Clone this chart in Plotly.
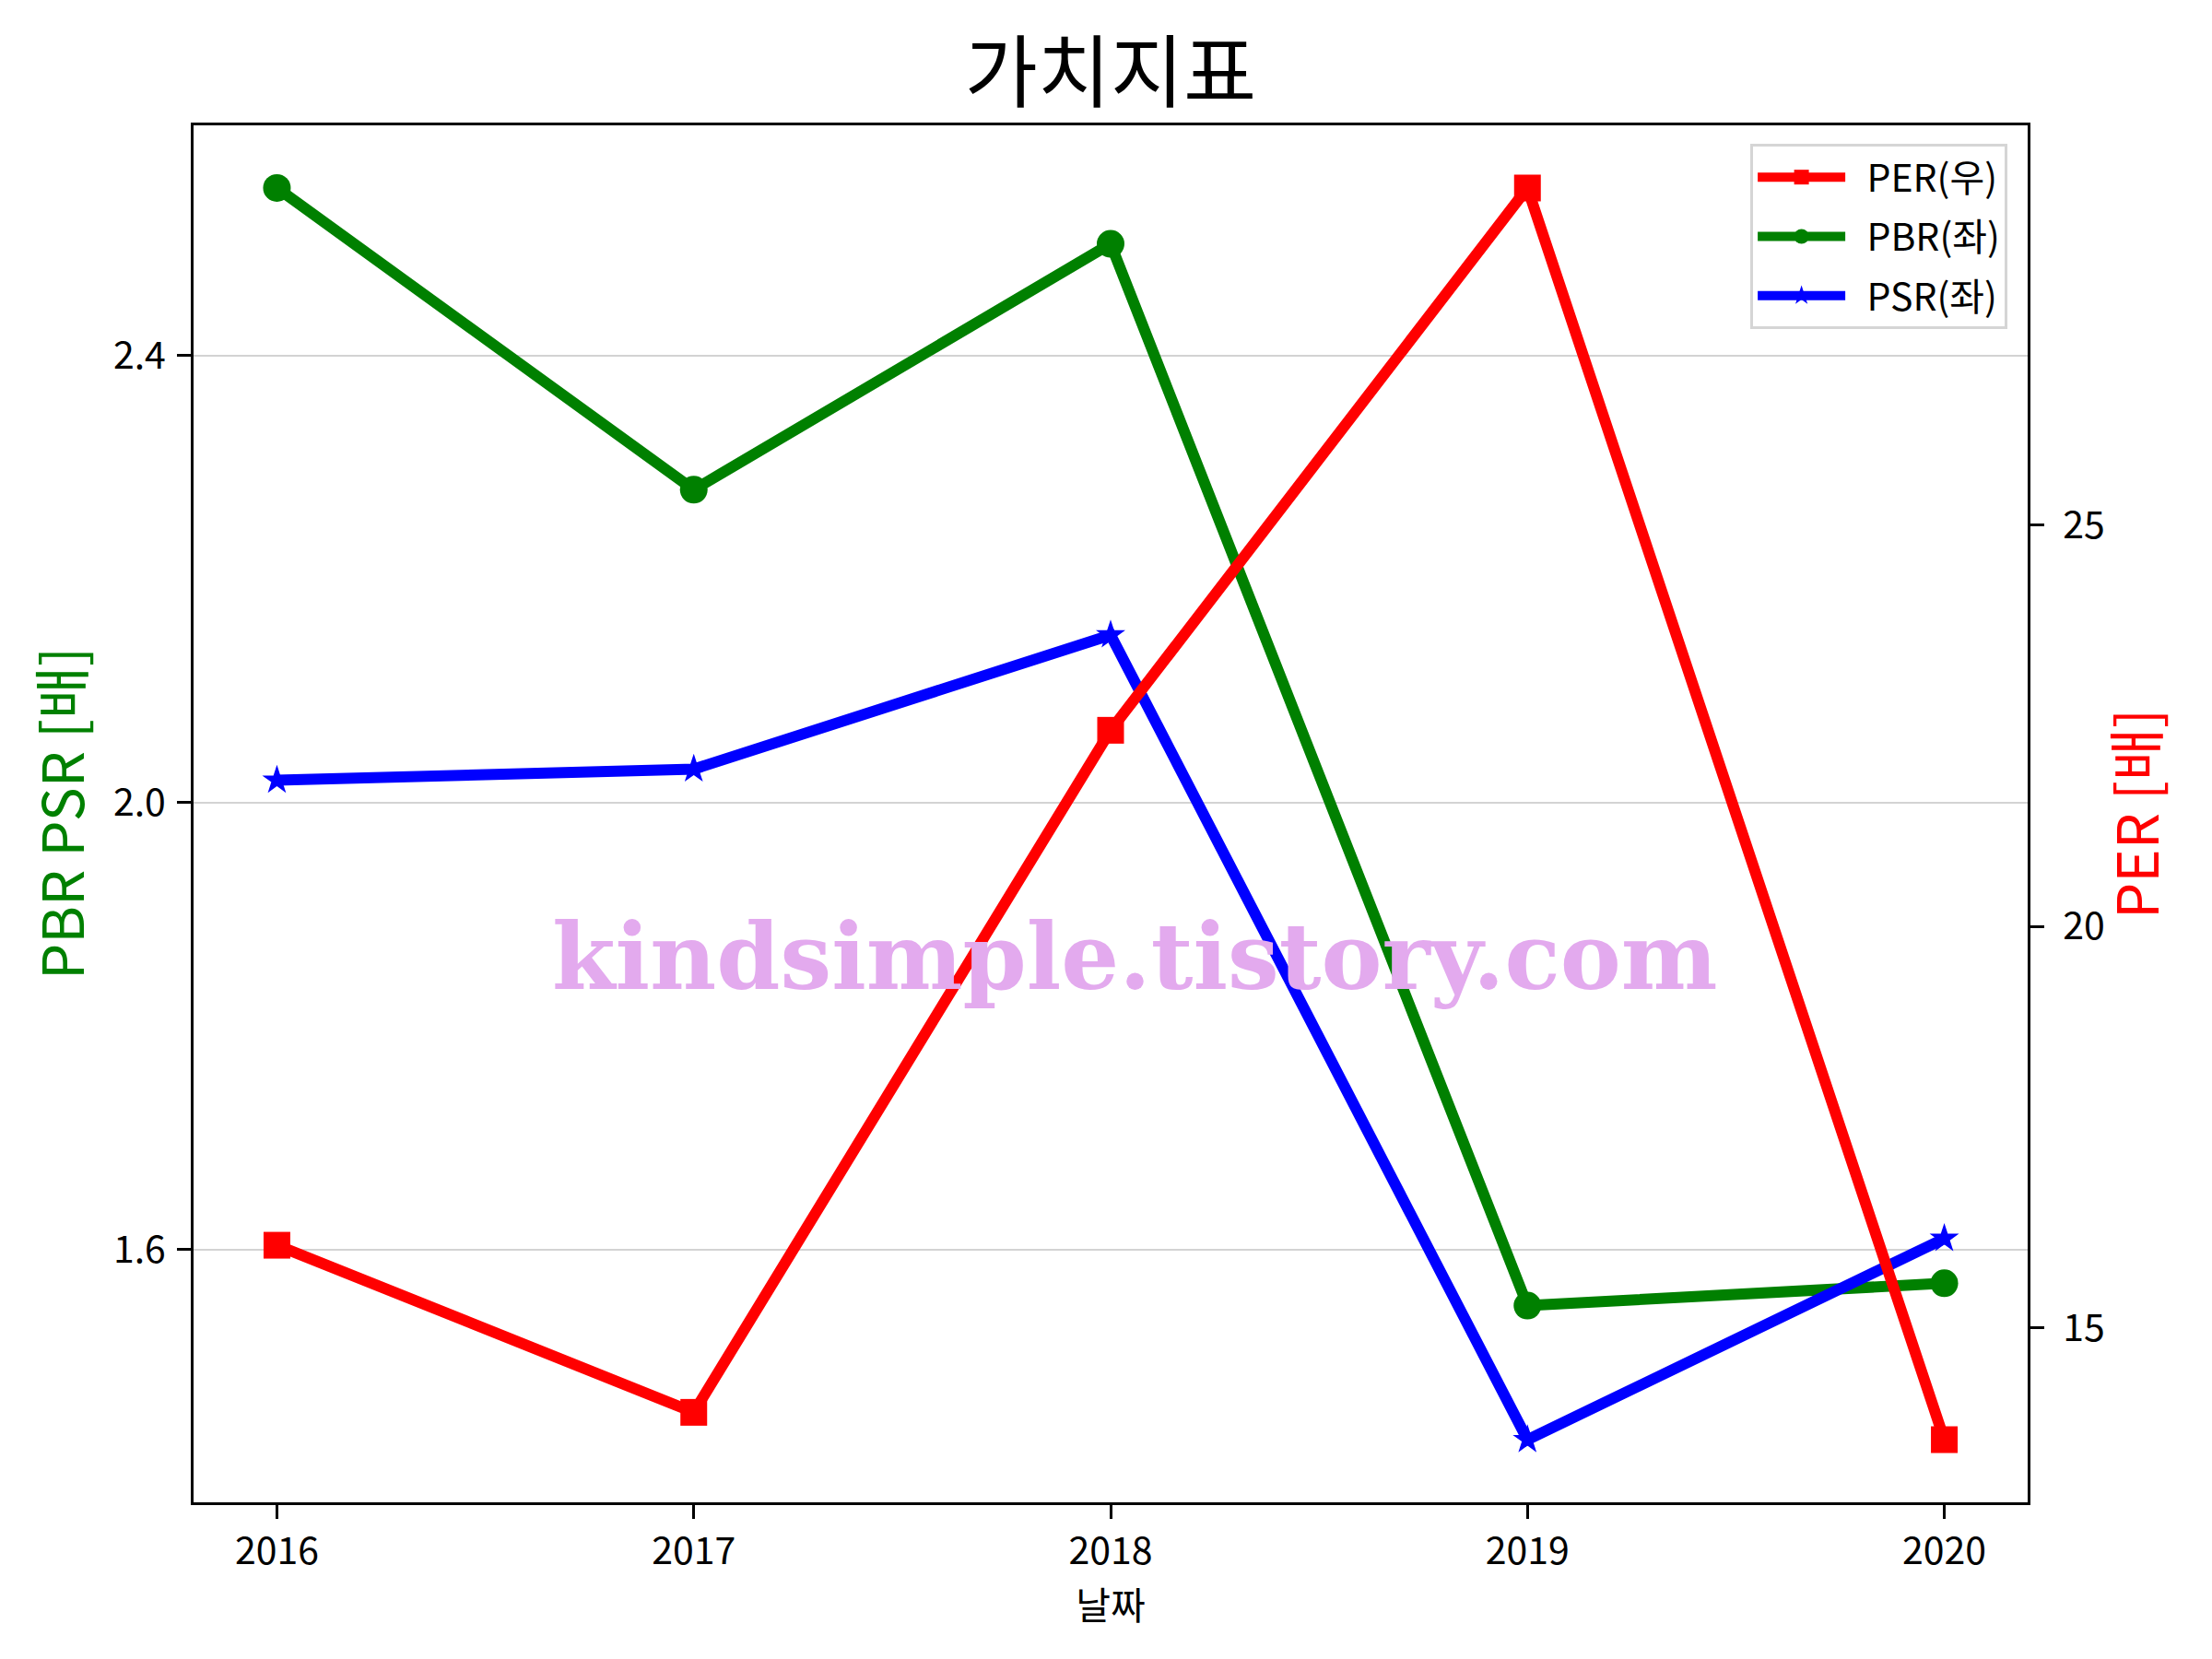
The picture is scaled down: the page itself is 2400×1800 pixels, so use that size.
import plotly.graph_objects as go

years = [2016, 2017, 2018, 2019, 2020]
per = [16.03, 13.95, 22.44, 29.19, 13.61]
pbr = [2.550, 2.280, 2.500, 1.550, 1.570]
psr = [2.020, 2.030, 2.150, 1.430, 1.610]

FONT = "Noto Sans CJK KR"
NB = "\u00a0\u00a0"

fig = go.Figure()
fig.add_trace(go.Scatter(x=years, y=per, name=NB + "PER(우)", yaxis="y2", legendgroup="a",
                         mode="lines+markers",
                         line=dict(color="#ff0000", width=12),
                         marker=dict(symbol="square", size=29, color="#ff0000")))
fig.add_trace(go.Scatter(x=years, y=pbr, name=NB + "PBR(좌)", legendgroup="b",
                         mode="lines+markers",
                         line=dict(color="#008000", width=12),
                         marker=dict(symbol="circle", size=30, color="#008000")))
fig.add_trace(go.Scatter(x=years, y=psr, name=NB + "PSR(좌)", legendgroup="c",
                         mode="lines+markers",
                         line=dict(color="#0000ff", width=12),
                         marker=dict(symbol="star", size=24, color="#0000ff")))

fig.update_layout(
    width=2400, height=1800,
    paper_bgcolor="white", plot_bgcolor="white",
    margin=dict(l=202, r=208, t=128, b=178),
    font=dict(family=FONT, size=41, color="black"),
    title=dict(text="가치지표", x=0.5, xref="paper", y=1 - 72 / 1800, yref="container",
               xanchor="center", yanchor="middle",
               font=dict(family=FONT, size=86, color="black")),
    xaxis=dict(range=[2015.8, 2020.2], tickvals=years, ticktext=[str(y) for y in years],
               showgrid=False, zeroline=False,
               showline=True, linecolor="black", linewidth=3, mirror=True,
               ticks="outside", ticklen=15, tickwidth=2.5, tickcolor="black",
               tickfont=dict(family=FONT, size=41),
               title=dict(text="날짜", font=dict(family=FONT, size=41), standoff=6)),
    yaxis=dict(range=[1.374, 2.606], tick0=0, dtick=0.4, tickformat=".1f",
               showgrid=True, gridcolor="#d3d3d3", gridwidth=1.5, zeroline=False,
               showline=True, linecolor="black", linewidth=3, mirror=True,
               ticks="outside", ticklen=15, tickwidth=2.5, tickcolor="black",
               ticklabelstandoff=4,
               tickfont=dict(family=FONT, size=41)),
    yaxis2=dict(range=[12.83, 29.97], tick0=0, dtick=5, overlaying="y", side="right",
                showgrid=False, zeroline=False,
                showline=True, linecolor="black", linewidth=3,
                ticks="outside", ticklen=15, tickwidth=2.5, tickcolor="black",
                ticklabelstandoff=12,
                tickfont=dict(family=FONT, size=41)),
    legend=dict(x=0.989, y=0.9866, xanchor="right", yanchor="top",
                bgcolor="white", bordercolor="#d5d5d5", borderwidth=3,
                font=dict(family=FONT, size=41), itemwidth=95,
                traceorder="grouped", tracegroupgap=8),
    showlegend=True,
)

# axis titles
fig.add_annotation(text="PBR PSR [배]", xref="paper", yref="paper", x=0, y=0.5,
                   xanchor="center", yanchor="middle", xshift=-146, textangle=-90,
                   showarrow=False, font=dict(family=FONT, size=62, color="#008000"))
fig.add_annotation(text="PER [배]", xref="paper", yref="paper", x=1, y=0.5,
                   xanchor="center", yanchor="middle", xshift=115, textangle=-90,
                   showarrow=False, font=dict(family=FONT, size=62, color="#ff0000"))

fig.add_annotation(text="<b>kindsimple.tistory.com</b>", xref="paper", yref="paper",
                   x=0.513, y=0.396, xanchor="center", yanchor="middle", showarrow=False,
                   font=dict(family="DejaVu Serif", size=99, color="#e3aaee"))

fig.write_html("out.html")
